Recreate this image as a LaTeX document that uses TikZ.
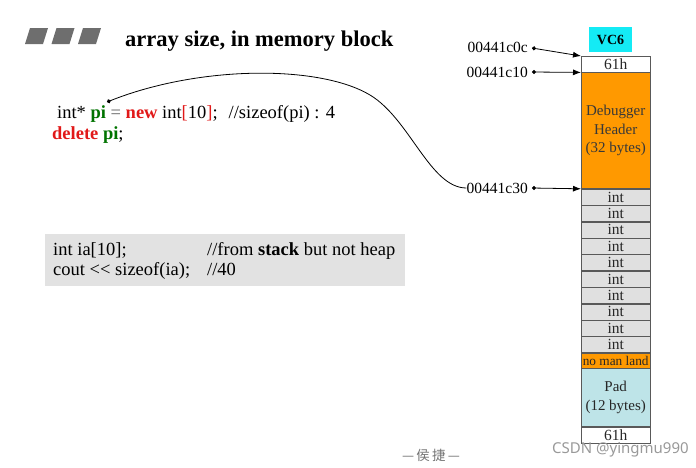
\documentclass[tikz,border=0pt]{standalone}
\usepackage{fontspec}
\setmainfont{Liberation Serif}
\newfontfamily\cjkfont{Noto Sans CJK SC}
\newfontfamily\wmfont{Noto Sans}
\usetikzlibrary{shapes}
\usetikzlibrary{arrows.meta}
\usetikzlibrary{positioning}

\definecolor{hdrorange}{RGB}{255,153,0}
\definecolor{intgray}{RGB}{224,224,224}
\definecolor{padblue}{RGB}{190,228,232}
\definecolor{vccyan}{RGB}{20,235,245}
\definecolor{kwred}{RGB}{225,25,25}
\definecolor{idgreen}{RGB}{0,115,0}
\definecolor{boxgray}{RGB}{226,226,226}
\definecolor{icongray}{RGB}{110,110,110}

\begin{document}
\begin{tikzpicture}[x=1pt,y=-1pt]
\tikzstyle{cell} = [rectangle, draw=black!65, fill=white, minimum width=69pt, minimum height=16pt, inner sep=0pt, text=black!85, font=\fontsize{15.5}{17}\selectfont]
\tikzstyle{addr} = [anchor=east, inner sep=0pt, font=\fontsize{15.5}{18}\selectfont]
\tikzstyle{code} = [anchor=base west, inner sep=0pt, font=\fontsize{18.5}{22}\selectfont]
\tikzstyle{ptr} = [{Circle[length=4pt]}-{Latex[length=8pt,width=6pt]}, line width=0.8pt]
\useasboundingbox (0,0) rectangle (696,467);

% heading
\foreach \i in {0,1,2}
  \fill[icongray] ({25+26.5*\i},44) -- ({30+26.5*\i},28) -- ({48+26.5*\i},28) -- ({43+26.5*\i},44) -- cycle;
\node[anchor=base west, inner sep=0pt, font=\bfseries\fontsize{22.5}{27}\selectfont] (title) at (125,46) {array size, in memory block};

% new / delete
\node[code] (line1) at (57,118) {int* \textcolor{idgreen}{\textbf{pi}} \textcolor{black!60}{=} \textcolor{kwred}{\textbf{new}} int\textcolor{kwred}{[}10\textcolor{kwred}{]};\hspace{11pt}//sizeof(pi) : 4};
\node[code] (line2) at (52,139) {\textcolor{kwred}{\textbf{delete}} \textcolor{idgreen}{\textbf{pi}};};
\coordinate (pidot) at (107,102);

% stack array
\node[fill=boxgray, minimum width=360pt, minimum height=52pt, inner sep=0pt, anchor=north west] (stackbox) at (45,234) {};
\node[code] (ia1) at (53,255) {int ia[10];};
\node[code] (ia2) at (207,255) {//from \textbf{stack} but not heap};
\node[code] (cout1) at (53,275) {cout {<}{<} sizeof(ia);};
\node[code] (cout2) at (207,275) {//40};

% memory block
\node[fill=vccyan, minimum width=43pt, minimum height=25pt, inner sep=0pt, font=\bfseries\fontsize{14}{16}\selectfont] (vc6) at (610.5,39.5) {VC6};
\node[cell, anchor=north west] (top61) at (581,56) {61h};
\node[cell, fill=hdrorange, minimum height=116pt, below=0pt of top61, align=center, text=black!78, font=\fontsize{15}{18.5}\selectfont] (dbg) {Debugger\\Header\\(32 bytes)};
\node[cell, fill=intgray, below=0pt of dbg] (int1) {int};
\foreach \n [remember=\n as \p (initially 1)] in {2,...,10}
  \node[cell, fill=intgray, below=0pt of int\p] (int\n) {int};
\node[cell, fill=hdrorange, minimum height=15pt, below=0pt of int10, font=\fontsize{13.3}{15}\selectfont] (nml) {no man land};
\node[cell, fill=padblue, minimum height=58pt, below=0pt of nml, align=center, font=\fontsize{15}{18.5}\selectfont] (pad) {Pad\\(12 bytes)};
\node[cell, below=0pt of pad] (bot61) {61h};

% addresses
\node[addr] (a0c) at (528,47) {00441c0c};
\node[addr] (a10) at (528,72) {00441c10};
\node[addr] (a30) at (528,188) {00441c30};
\draw[ptr] ([xshift=4pt,yshift=-1pt]a0c.east) -- (top61.north west);
\draw[ptr] ([xshift=4pt]a10.east) -- (dbg.north west);
\draw[ptr] ([xshift=4pt]a30.east) -- (int1.north west);
\draw[{Circle[length=4pt]}-, line width=0.8pt] (pidot) .. controls (200,65) and (320,65) .. (370,95) .. controls (410,119) and (430,188) .. (a30.west);

% footer
\node[font=\cjkfont\fontsize{13.5}{16}\selectfont, text=black!55] (author) at (431,455) {—\,侯\,捷\,—};
\node[anchor=west, inner sep=0pt, font=\wmfont\fontsize{15}{18}\selectfont, text=black!40] (csdn) at (552,450) {CSDN @yingmu990};
\end{tikzpicture}
\end{document}
